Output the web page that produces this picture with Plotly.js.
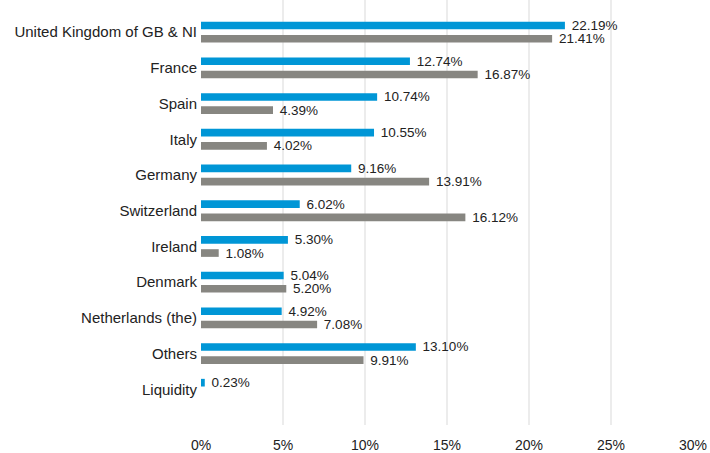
<!DOCTYPE html>
<html>
<head>
<meta charset="utf-8">
<script src="https://cdn.plot.ly/plotly-3.0.1.min.js"></script>
<style>html,body{margin:0;padding:0;background:#fff;}#chart{width:710px;height:453px;}</style>
</head>
<body>
<div id="chart"></div>
<script>
const categories = ["United Kingdom of GB & NI","France","Spain","Italy","Germany","Switzerland","Ireland","Denmark","Netherlands (the)","Others","Liquidity"];
const seriesBlue = [22.19,12.74,10.74,10.55,9.16,6.02,5.30,5.04,4.92,13.10,0.23];
const seriesGray = [21.41,16.87,4.39,4.02,13.91,16.12,1.08,5.20,7.08,9.91,null];
const tickValues = [0,5,10,15,20,25,30];
const tickLabels = ["0%","5%","10%","15%","20%","25%","30%"];

const fontFam = "Liberation Sans, Arial, sans-serif";
const mk = (vals, color) => ({
  type: "bar", orientation: "h", x: vals, y: categories,
  marker: {color: color},
  text: vals.map(v => v == null ? "" : " " + v.toFixed(2) + "%"),
  textposition: "outside", cliponaxis: false, constraintext: "none",
  textfont: {family: fontFam, size: 13.5, color: "#222"},
  hoverinfo: "skip", showlegend: false
});
const data = [mk(seriesBlue, "#0096d6"), mk(seriesGray, "#878681")];
const layout = {
  width: 710, height: 453,
  margin: {l: 201, r: 17, t: 0, b: 28},
  barmode: "group", bargap: 0.26, bargroupgap: 0.42,
  paper_bgcolor: "#fff", plot_bgcolor: "#fff",
  font: {family: fontFam, size: 14, color: "#222"},
  xaxis: {
    range: [0, 30], tickvals: tickValues, ticktext: tickLabels,
    showgrid: true, gridcolor: "#ececec", gridwidth: 1.5,
    zeroline: false, showline: false, ticks: "",
    tickfont: {family: fontFam, size: 14, color: "#222"},
    ticklabelstandoff: 10, fixedrange: true
  },
  yaxis: {
    type: "category", categoryorder: "array", categoryarray: categories,
    range: [11.0, -0.9], showgrid: false, zeroline: false, showline: false,
    ticks: "", ticklabelstandoff: 3,
    tickfont: {family: fontFam, size: 15, color: "#222"}
  }
};
Plotly.newPlot("chart", data, layout, {displayModeBar: false, staticPlot: true});
</script>
</body>
</html>
